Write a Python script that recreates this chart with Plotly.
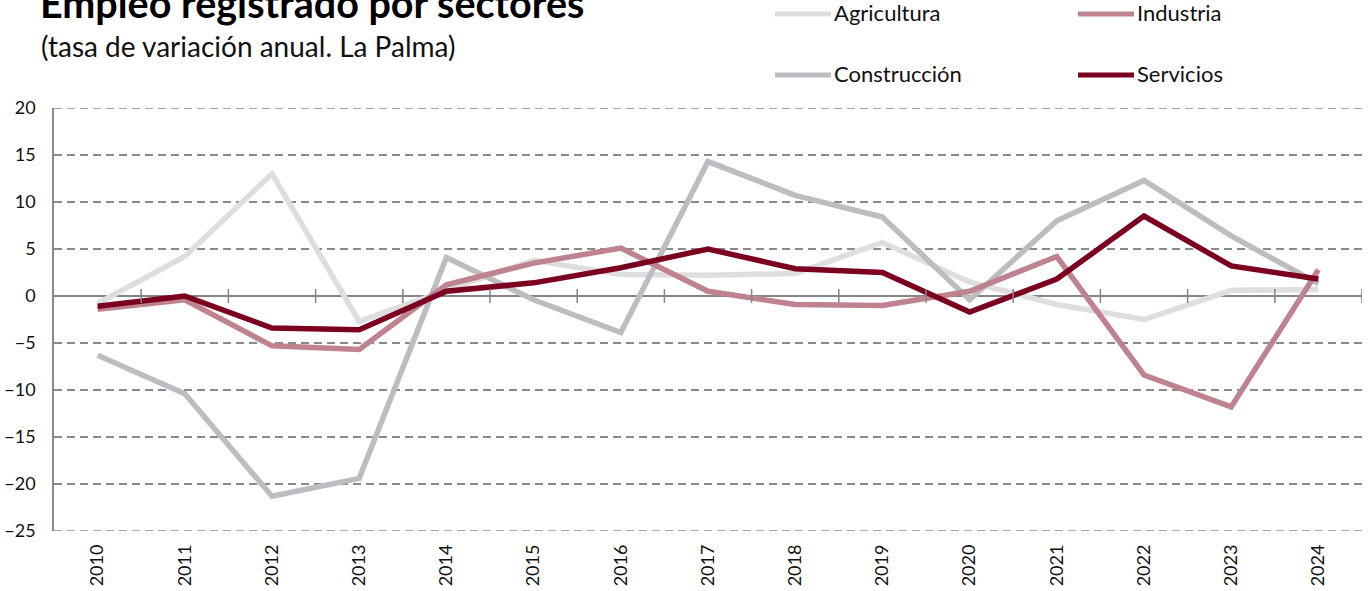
import plotly.graph_objects as go

years = [str(y) for y in range(2010, 2025)]
agricultura = [-0.8, 4.2, 13.0, -2.7, 0.6, 3.8, 2.3, 2.2, 2.4, 5.7, 1.5, -0.9, -2.5, 0.6, 0.7]
industria = [-1.4, -0.4, -5.3, -5.7, 1.2, 3.5, 5.1, 0.5, -0.9, -1.0, 0.5, 4.2, -8.4, -11.8, 2.8]
construccion = [-6.3, -10.4, -21.3, -19.4, 4.1, -0.4, -3.9, 14.3, 10.7, 8.4, -0.4, 8.0, 12.3, 6.4, 1.3]
servicios = [-1.1, 0.0, -3.4, -3.6, 0.5, 1.4, 3.0, 5.0, 2.9, 2.5, -1.7, 1.8, 8.5, 3.2, 1.8]
y_ticks = [20, 15, 10, 5, 0, -5, -10, -15, -20, -25]

colors = {"Agricultura": "#dedee0", "Industria": "#bf8390",
          "Construcción": "#bdbdc1", "Servicios": "#7b0020"}
series = {"Agricultura": agricultura, "Industria": industria,
          "Construcción": construccion, "Servicios": servicios}

FONT = "Lato"
W, H = 1370, 591
ML, MR, MT, MB = 54, 8, 108, 60
PH = H - MT - MB
GRID = "#8a8a8a"

fig = go.Figure()
for n in ["Agricultura", "Construcción", "Industria", "Servicios"]:
    fig.add_trace(go.Scatter(x=years, y=series[n], mode="lines", name=n,
                             line=dict(color=colors[n], width=5.5),
                             showlegend=False))

# dashed gridlines at the range ends (plotly skips them at the edges)
for v in (y_ticks[0], y_ticks[-1]):
    fig.add_shape(type="line", xref="x domain", yref="y", x0=0, x1=1, y0=v, y1=v,
                  line=dict(color=GRID, width=1.5, dash="8px,5px"), layer="below")

# tick marks crossing the zero line at category boundaries
for i in range(len(years)):
    fig.add_shape(type="line", xref="x", yref="y", x0=i + 0.5, x1=i + 0.5,
                  ysizemode="pixel", yanchor=0, y0=-7, y1=7,
                  line=dict(color="#858585", width=1.5), layer="above")

def py(p):
    return (H - MB - p) / PH

def px(p):
    return (p - ML) / (W - ML - MR)

# manual legend
leg = [("Agricultura", 775, 14, 12.5), ("Industria", 1078, 14, 12.5),
       ("Construcción", 775, 75, 73.5), ("Servicios", 1078, 75, 73.5)]
for n, x0, yy, ty in leg:
    fig.add_shape(type="line", xref="paper", yref="paper",
                  x0=px(x0), x1=px(x0 + 56), y0=py(yy), y1=py(yy),
                  line=dict(color=colors[n], width=5))
    fig.add_annotation(text=n, xref="paper", yref="paper", x=px(x0 + 57),
                       y=py(ty), xanchor="left", yanchor="middle",
                       showarrow=False, font=dict(family=FONT, size=22, color="#111"))

fig.add_annotation(text="<b>Empleo registrado por sectores</b>", xref="paper", yref="paper",
                   x=px(38), y=py(3), xanchor="left", yanchor="middle", showarrow=False,
                   font=dict(family=FONT, size=39.5, color="#000"))
fig.add_annotation(text="(tasa de variación anual. La Palma)", xref="paper", yref="paper",
                   x=px(39), y=py(46), xanchor="left", yanchor="middle", showarrow=False,
                   font=dict(family=FONT, size=28, color="#111"))

fig.update_layout(
    width=W, height=H, margin=dict(l=ML, r=MR, t=MT, b=MB, autoexpand=False),
    plot_bgcolor="white", paper_bgcolor="white",
    font=dict(family=FONT, size=18, color="#111"),
    showlegend=False,
    xaxis=dict(type="category", showgrid=False, showline=False, zeroline=False,
               automargin=False,
               tickangle=-90, ticks="", tickfont=dict(size=18),
               ticklabelstandoff=9, range=[-0.5, len(years) - 0.5]),
    yaxis=dict(range=[-25, 20], tickvals=y_ticks, showgrid=True,
               automargin=False,
               gridcolor=GRID, gridwidth=1.5, griddash="8px,5px",
               zeroline=True, zerolinecolor="#858585", zerolinewidth=2,
               showline=True, linecolor=GRID, linewidth=1.5,
               ticks="", tickfont=dict(size=18), ticklabelstandoff=13),
)

fig.write_html("out.html", config={"displayModeBar": False},
               post_script="document.body.style.margin='0';document.body.style.padding='0';")
